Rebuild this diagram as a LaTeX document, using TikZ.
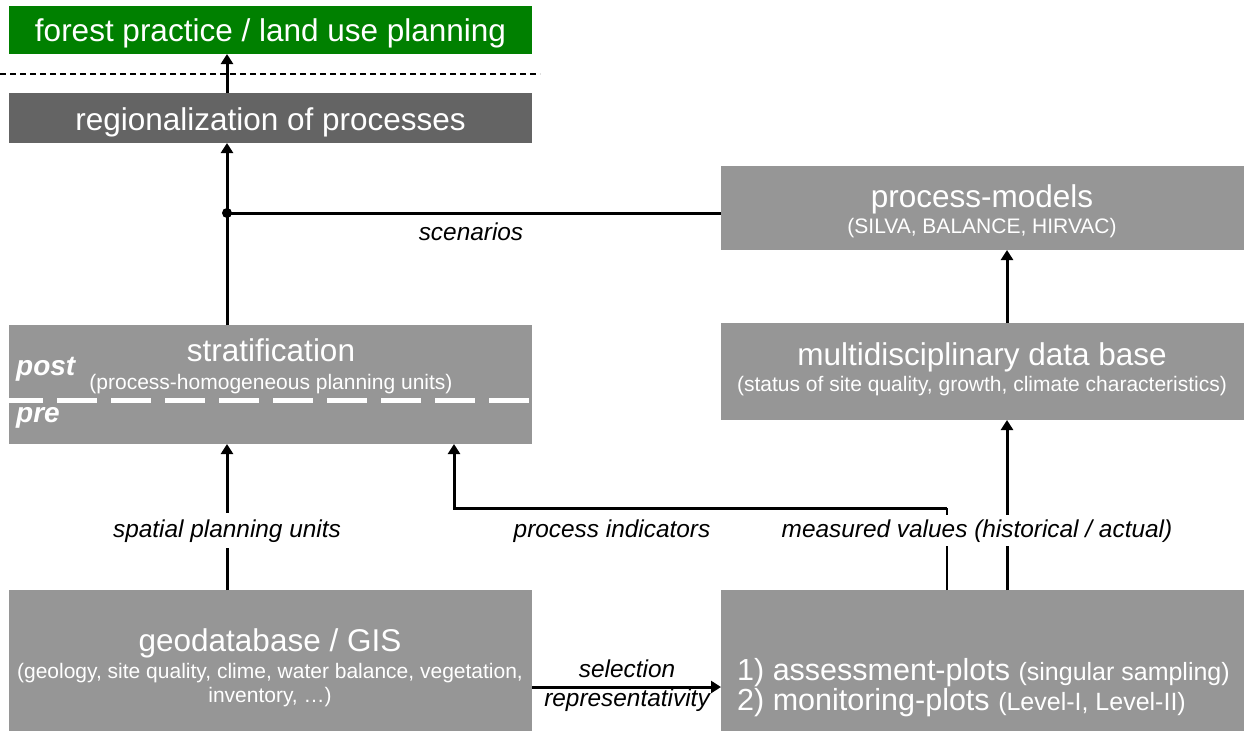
\documentclass[tikz,border=0pt]{standalone}
\usepackage{fontspec}
\setmainfont{Liberation Sans}
\usetikzlibrary{arrows.meta}
\definecolor{grnbox}{RGB}{0,128,0}
\definecolor{darkbox}{RGB}{100,100,100}
\definecolor{lightbox}{RGB}{150,150,150}
\begin{document}
\begin{tikzpicture}[x=1pt,y=-1pt,
  box/.style={draw=none,inner sep=0pt,outer sep=0pt,anchor=north west},
  ttl/.style={text=white,font=\fontsize{31.5}{36}\selectfont,inner sep=0pt,anchor=base},
  sub/.style={text=white,font=\fontsize{21}{25}\selectfont,inner sep=0pt,anchor=base},
  lbl/.style={font=\fontsize{24.4}{28}\selectfont\itshape,inner xsep=3pt,inner ysep=6pt,anchor=base},
  pp/.style={text=white,font=\fontsize{28}{32}\selectfont\bfseries\itshape,inner sep=0pt,anchor=base west},
  conn/.style={line width=3pt},
  thinconn/.style={line width=2pt},
  arr/.style={conn,-{Triangle[length=10pt,width=12pt]}}
]
\useasboundingbox (0,0) rectangle (1250,731);

% boxes
\node[box,fill=grnbox,minimum width=523pt,minimum height=48pt] (green) at (9,6) {};
\node[box,fill=darkbox,minimum width=523pt,minimum height=50pt] (reg) at (9,93) {};
\node[box,fill=lightbox,minimum width=523pt,minimum height=119pt] (strat) at (9,325) {};
\node[box,fill=lightbox,minimum width=523pt,minimum height=84pt] (pm) at (721,166) {};
\node[box,fill=lightbox,minimum width=523pt,minimum height=97pt] (mdb) at (721,323) {};
\node[box,fill=lightbox,minimum width=523pt,minimum height=141pt] (geo) at (9,590) {};
\node[box,fill=lightbox,minimum width=523pt,minimum height=141pt] (plots) at (721,590) {};

% dashed separators
\coordinate (dl) at (0,74);
\coordinate (dr) at (540,74);
\draw[line width=1.5pt,dash pattern=on 6pt off 4pt] (dl) -- (dr);
\coordinate (wl) at (9,400);
\coordinate (wr) at (532,400);
\draw[white,line width=5pt,dash pattern=on 40pt off 14pt,dash phase=6pt] (wl) -- (wr);

% texts in boxes
\node[ttl] (tgreen) at (270.5,41) {forest practice / land use planning};
\node[ttl] (treg) at (270.5,130) {regionalization of processes};
\node[ttl] (tstrat) at (271,361) {stratification};
\node[sub] (sstrat) at (271,389) {(process-homogeneous planning units)};
\node[pp] (post) at (16,375) {post};
\node[pp] (pre) at (16,422) {pre};
\node[ttl] (tpm) at (982,207) {process-models};
\node[sub] (spm) at (982,233) {(SILVA, BALANCE, HIRVAC)};
\node[ttl] (tmdb) at (982,365) {multidisciplinary data base};
\node[sub] (smdb) at (982,391) {(status of site quality, growth, climate characteristics)};
\node[ttl] (tgeo) at (270,651) {geodatabase / GIS};
\node[sub] (sgeo1) at (270,678) {(geology, site quality, clime, water balance, vegetation,};
\node[sub] (sgeo2) at (270,702) {inventory, \dots)};
\node[text=white,inner sep=0pt,anchor=base west] (p1) at (737,680)
  {\fontsize{30.5}{34}\selectfont 1) assessment-plots \fontsize{25}{30}\selectfont(singular sampling)};
\node[text=white,inner sep=0pt,anchor=base west] (p2) at (737,710)
  {\fontsize{30.5}{34}\selectfont 2) monitoring-plots \fontsize{25}{30}\selectfont(Level-I, Level-II)};

% connectors
\coordinate (xa) at (227,0);
\coordinate (xb) at (454,0);
\coordinate (xc) at (947,0);
\coordinate (xd) at (1007,0);
\coordinate (jn) at (227,213);
\coordinate (yh) at (0,508);
\coordinate (ys) at (0,687);

\draw[arr] (reg.north -| xa) -- (green.south -| xa);
\draw[arr] (strat.north -| xa) -- (reg.south -| xa);
\draw[conn] (pm.west |- jn) -- (jn);
\fill (jn) circle (5pt);
\node[lbl] (lscen) at (471,240) {scenarios};

\draw[arr] (mdb.north -| xd) -- (pm.south -| xd);
\draw[arr] (geo.north -| xa) -- (strat.south -| xa);
\draw[arr] (plots.north -| xd) -- (mdb.south -| xd);
\draw[thinconn] (plots.north -| xc) -- (xc |- yh);
\draw[arr] (xc |- yh) -- (xb |- yh) -- (strat.south -| xb);
\draw[arr] (geo.east |- ys) -- (plots.west |- ys);

% labels
\node[lbl,fill=white] (lspu) at (227,537) {spatial planning units};
\node[lbl] (lpi) at (612,537) {process indicators};
\node[lbl,fill=white,inner ysep=4pt] (lmv) at (977,537) {measured values (historical / actual)};
\node[lbl,inner ysep=0pt] (lsel) at (627,677) {selection};
\node[lbl,inner ysep=0pt] (lrep) at (627,706) {representativity};
\end{tikzpicture}
\end{document}
